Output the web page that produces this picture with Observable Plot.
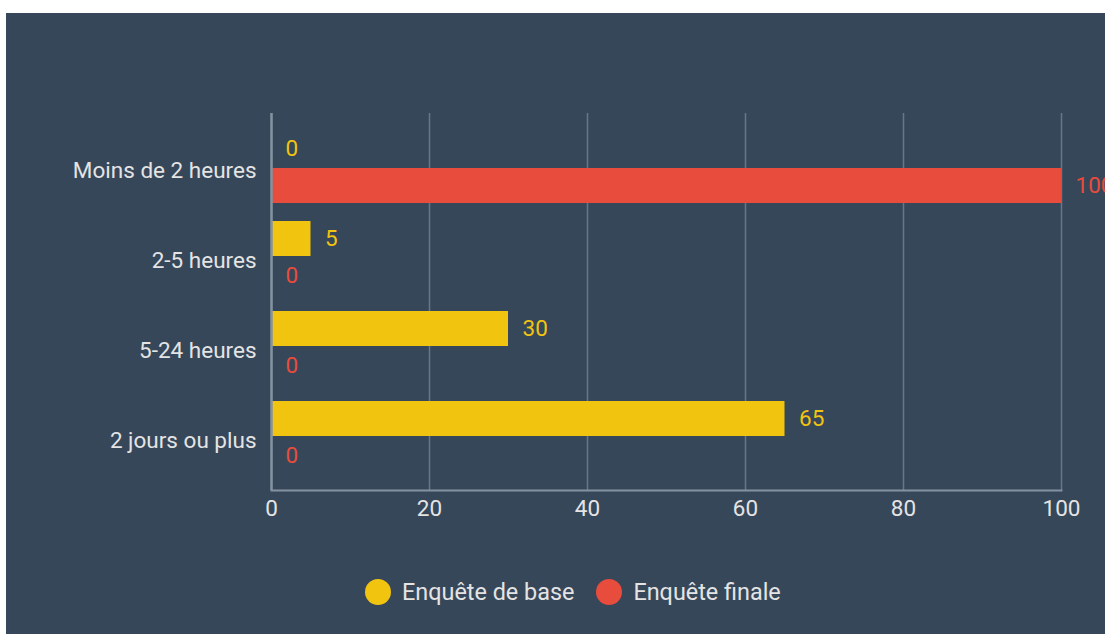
<!DOCTYPE html>
<html>
<head>
<meta charset="utf-8">
<script src="https://cdn.jsdelivr.net/npm/d3@7"></script>
<script src="https://cdn.jsdelivr.net/npm/@observablehq/plot@0.6"></script>
<style>
  html, body { margin: 0; padding: 0; background: #ffffff; overflow: hidden; }
  #wrap {
    position: absolute; left: 6px; top: 13px; width: 1099px; height: 621px;
    background: #37475a; overflow: hidden;
    font-family: Roboto, "Liberation Sans", Arial, sans-serif;
  }
  #legend {
    position: absolute; left: 359px; top: 566px; height: 26px;
    display: flex; align-items: center; color: #e4e4e4; font-size: 23.4px;
  }
  .item { display: flex; align-items: center; margin-right: 22px; }
  .dot { width: 26px; height: 26px; border-radius: 50%; margin-right: 11px; }
</style>
</head>
<body>
<div id="wrap">
  <div id="chart"></div>
  <div id="legend"></div>
</div>
<script>
const categories = ["Moins de 2 heures", "2-5 heures", "5-24 heures", "2 jours ou plus"];
const baseValues = [0, 5, 30, 65];
const finalValues = [100, 0, 0, 0];
const seriesNames = ["Enquête de base", "Enquête finale"];
const seriesColors = ["#f1c40f", "#e74c3c"];
const xTicks = [0, 20, 40, 60, 80, 100];

const data = categories.map((c, i) => ({category: c, base: baseValues[i], final: finalValues[i]}));

const FS = 22.5;
const chart = Plot.plot({
  width: 1099,
  height: 530,
  marginLeft: 265,
  marginRight: 44,
  marginTop: 100,
  marginBottom: 53,
  style: {background: "transparent", fontFamily: "Roboto, 'Liberation Sans', Arial, sans-serif", overflow: "hidden"},
  x: {domain: [0, 100], ticks: xTicks},
  y: {domain: categories, paddingInner: 0, paddingOuter: 0.0944},
  marks: [
    Plot.gridX(xTicks, {stroke: "#66778a", strokeOpacity: 1, strokeWidth: 1.5}),
    Plot.barX(data, {x: "base", y: "category", fill: seriesColors[0], insetTop: 9, insetBottom: 46}),
    Plot.barX(data, {x: "final", y: "category", fill: seriesColors[1], insetTop: 46, insetBottom: 9}),
    Plot.text(data, {x: "base", y: "category", text: d => String(d.base), dx: 14, dy: -18.5, textAnchor: "start", fill: seriesColors[0], fontSize: FS}),
    Plot.text(data, {x: "final", y: "category", text: d => String(d.final), dx: 14, dy: 18.5, textAnchor: "start", fill: seriesColors[1], fontSize: FS}),
    Plot.frame({anchor: "bottom", stroke: "#8592a1", strokeWidth: 2}),
    Plot.ruleX([0], {stroke: "#8592a1", strokeWidth: 2.5}),
    Plot.axisY({tickSize: 0, tickPadding: 15, fontSize: FS, fill: "#e4e4e4", dy: 3, label: null}),
    Plot.axisX(xTicks, {tickSize: 0, tickPadding: 10, fontSize: FS, fill: "#e4e4e4", label: null})
  ]
});
document.getElementById("chart").appendChild(chart);

const legend = document.getElementById("legend");
seriesNames.forEach((name, i) => {
  const item = document.createElement("div");
  item.className = "item";
  const dot = document.createElement("span");
  dot.className = "dot";
  dot.style.background = seriesColors[i];
  const label = document.createElement("span");
  label.textContent = name;
  item.appendChild(dot);
  item.appendChild(label);
  legend.appendChild(item);
});
</script>
</body>
</html>
